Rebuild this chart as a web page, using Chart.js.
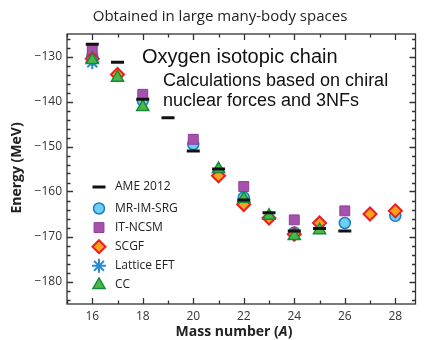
<!DOCTYPE html>
<html>
<head>
<meta charset="utf-8">
<script src="https://cdn.jsdelivr.net/npm/chart.js@4.4.1/dist/chart.umd.min.js"></script>
<style>
  html, body { margin: 0; padding: 0; background: #fff; }
  canvas { display: block; }
</style>
</head>
<body>
<canvas id="oxygenChart" width="425" height="340"></canvas>
<script>
// Ground-state energies of the oxygen isotopes (MeV) against mass number A
const xTicks = [16, 18, 20, 22, 24, 26, 28];
const yTicks = [-180, -170, -160, -150, -140, -130];

const ameA = [16, 17, 18, 19, 20, 21, 22, 23, 24, 25, 26];
const ameE = [-127.3, -131.3, -139.5, -143.6, -151.0, -155.0, -161.9, -164.7, -168.8, -168.2, -168.8];

const imsrgA = [16, 18, 20, 22, 24, 26, 28];
const imsrgE = [-130.0, -139.8, -149.5, -161.3, -169.1, -167.0, -165.4];

const ncsmA = [16, 18, 20, 22, 24, 26];
const ncsmE = [-128.5, -138.4, -148.4, -158.9, -166.3, -164.3];

const scgfA = [16, 17, 21, 22, 23, 24, 25, 27, 28];
const scgfE = [-130.5, -134.0, -156.5, -162.9, -165.9, -169.5, -167.0, -165.0, -164.3];

const latticeA = [16];
const latticeE = [-131.3];

const ccA = [16, 17, 18, 21, 22, 23, 24, 25];
const ccE = [-130.8, -134.7, -141.2, -155.0, -161.6, -165.4, -169.9, -168.6];

const pairs = (xs, ys) => xs.map((x, i) => ({ x: x, y: ys[i] }));
const minus = v => String(v).replace('-', '\u2212');

// inward ticks on all four sides, plus the box
const framePlugin = {
  id: 'frame',
  afterDatasetsDraw(chart) {
    const { ctx, chartArea: a, scales } = chart;
    const xs = scales.x, ys = scales.y;
    ctx.save();
    ctx.strokeStyle = '#333';
    ctx.lineWidth = 1.3;
    ctx.strokeRect(a.left, a.top, a.right - a.left, a.bottom - a.top);
    ctx.beginPath();
    for (let v = 15; v <= 28; v++) {
      const px = Math.round(xs.getPixelForValue(v)) + 0.5;
      const len = v % 2 === 0 ? 6 : 3.5;
      ctx.moveTo(px, a.bottom); ctx.lineTo(px, a.bottom - len);
      ctx.moveTo(px, a.top); ctx.lineTo(px, a.top + len);
    }
    for (let v = -184; v <= -126; v += 2) {
      const py = Math.round(ys.getPixelForValue(v)) + 0.5;
      const len = v % 10 === 0 ? 6 : 3.5;
      ctx.moveTo(a.left, py); ctx.lineTo(a.left + len, py);
      ctx.moveTo(a.right, py); ctx.lineTo(a.right - len, py);
    }
    ctx.stroke();
    ctx.restore();
  }
};

// title, notes, axis titles and the inset legend
const textPlugin = {
  id: 'texts',
  afterDraw(chart) {
    const ctx = chart.ctx;
    ctx.save();
    ctx.fillStyle = '#222';
    ctx.textBaseline = 'middle';

    ctx.font = '15px "Open Sans"';
    ctx.textAlign = 'center';
    ctx.fillText('Obtained in large many-body spaces', 220, 17);

    ctx.textAlign = 'left';
    ctx.fillStyle = '#111';
    ctx.font = '20px "Liberation Sans"';
    ctx.fillText('Oxygen isotopic chain', 142, 57);
    ctx.font = '18px "Liberation Sans"';
    ctx.fillText('Calculations based on chiral', 163, 81);
    ctx.fillText('nuclear forces and 3NFs', 163, 101);

    // x-axis title with italic A
    ctx.fillStyle = '#222';
    const bold = 'bold 14px "Open Sans"', boldIt = 'italic bold 14px "Open Sans"';
    const parts = [['Mass number (', bold], ['A', boldIt], [')', bold]];
    let total = 0;
    parts.forEach(p => { ctx.font = p[1]; total += ctx.measureText(p[0]).width; });
    let x = 234 - total / 2;
    parts.forEach(p => { ctx.font = p[1]; ctx.fillText(p[0], x, 332); x += ctx.measureText(p[0]).width; });

    ctx.save();
    ctx.translate(17, 168);
    ctx.rotate(-Math.PI / 2);
    ctx.textAlign = 'center';
    ctx.font = bold;
    ctx.fillText('Energy (MeV)', 0, 0);
    ctx.restore();

    // legend
    const rows = [187, 208.5, 227.6, 246.7, 265.8, 284.9];
    chart.data.datasets.forEach((ds, i) => {
      const y = rows[i];
      ctx.fillStyle = ds.pointBackgroundColor;
      ctx.strokeStyle = ds.pointBorderColor;
      ctx.lineWidth = ds.pointBorderWidth;
      Chart.helpers.drawPoint(ctx, {
        pointStyle: ds.pointStyle, radius: ds.pointRadius,
        rotation: 0, borderWidth: ds.pointBorderWidth
      }, 99, y);
      ctx.fillStyle = '#222';
      ctx.font = '12px "Open Sans"';
      ctx.textAlign = 'left';
      ctx.fillText(ds.label, 115, y);
    });
    ctx.restore();
  }
};

new Chart(document.getElementById('oxygenChart'), {
  type: 'scatter',
  data: {
    datasets: [
      {
        label: 'AME 2012', data: pairs(ameA, ameE), order: 0,
        pointStyle: 'line', pointRadius: 6.5, pointBorderWidth: 3,
        pointBackgroundColor: '#111', pointBorderColor: '#111'
      },
      {
        label: 'MR-IM-SRG', data: pairs(imsrgA, imsrgE), order: 5,
        pointStyle: 'circle', pointRadius: 5.5, pointBorderWidth: 1.5,
        pointBackgroundColor: '#6dcff3', pointBorderColor: '#1b7dc4'
      },
      {
        label: 'IT-NCSM', data: pairs(ncsmA, ncsmE), order: 4,
        pointStyle: 'rect', pointRadius: 7, pointBorderWidth: 1,
        pointBackgroundColor: '#a652ac', pointBorderColor: '#8e3d97'
      },
      {
        label: 'SCGF', data: pairs(scgfA, scgfE), order: 3,
        pointStyle: 'rectRot', pointRadius: 6.5, pointBorderWidth: 2,
        pointBackgroundColor: '#f9a31b', pointBorderColor: '#ec1c24'
      },
      {
        label: 'Lattice EFT', data: pairs(latticeA, latticeE), order: 2,
        pointStyle: 'star', pointRadius: 7, pointBorderWidth: 2,
        pointBackgroundColor: '#2a8bd2', pointBorderColor: '#2a8bd2'
      },
      {
        label: 'CC', data: pairs(ccA, ccE), order: 1,
        pointStyle: 'triangle', pointRadius: 7, pointBorderWidth: 1.5,
        pointBackgroundColor: '#4cb848', pointBorderColor: '#138a3c'
      }
    ]
  },
  options: {
    responsive: false,
    animation: false,
    devicePixelRatio: 1,
    layout: { padding: { top: 34, right: 1, left: 0, bottom: 0 } },
    plugins: {
      legend: { display: false },
      tooltip: { enabled: false }
    },
    scales: {
      x: {
        type: 'linear', min: 15, max: 28.8,
        grid: { display: false, drawTicks: false },
        border: { display: false },
        afterBuildTicks: s => { s.ticks = xTicks.map(v => ({ value: v })); },
        afterFit: s => { s.height = 36; },
        ticks: {
          padding: 5, color: '#333',
          font: { family: 'Open Sans', size: 12 },
          maxRotation: 0
        }
      },
      y: {
        type: 'linear', min: -185, max: -125,
        grid: { display: false, drawTicks: false },
        border: { display: false },
        afterBuildTicks: s => { s.ticks = yTicks.map(v => ({ value: v })); },
        afterFit: s => { s.width = 67; },
        ticks: {
          padding: 5, color: '#333',
          font: { family: 'Open Sans', size: 12 },
          callback: v => minus(v)
        }
      }
    }
  },
  plugins: [framePlugin, textPlugin]
});
</script>
</body>
</html>
